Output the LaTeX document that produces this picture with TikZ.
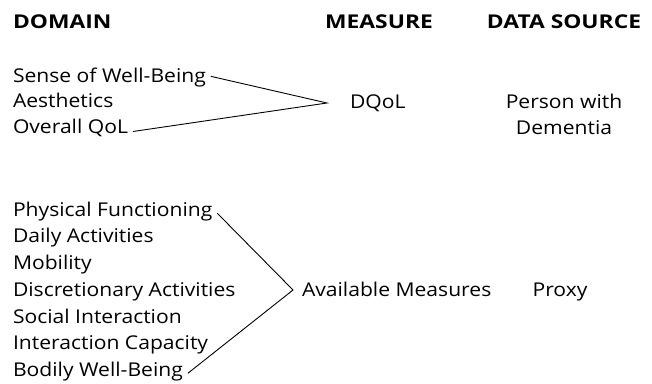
\documentclass[tikz,border=0pt]{standalone}
\usepackage{fontspec}
\setmainfont[FakeStretch=1.11]{Open Sans}
\newfontfamily\headfont[FakeStretch=1.2]{Open Sans}
\begin{document}
\begin{tikzpicture}[x=1pt,y=-1pt,
  every node/.style={inner sep=0pt,outer sep=0pt,font=\fontsize{19}{22}\selectfont},
  head/.style={font=\fontsize{19}{22}\selectfont\headfont\bfseries},
  item/.style={anchor=base west},
  link/.style={line width=0.9pt,black}]
\useasboundingbox (0,0) rectangle (652,383);

% column headings
\node[head,anchor=base west] (hdomain) at (13,28) {DOMAIN};
\node[head,anchor=base] (hmeasure) at (379,28) {MEASURE};
\node[head,anchor=base] (hsource) at (564,28) {DATA SOURCE};

% first group: domains assessed by the DQoL
\node[item] (sense) at (13,82) {Sense of Well-Being};
\node[item] (aesth) at (13,107.5) {Aesthetics};
\node[item] (overall) at (13,133) {Overall QoL};
\coordinate (apexA) at (327,103);
\node[item] (dqol) at (350,108) {DQoL};
\node[anchor=base] (pwdA) at (564,108) {Person with};
\node[anchor=base] (pwdB) at (564,134) {Dementia};

\draw[link] ([xshift=5pt,yshift=3pt]sense.mid east) -- (apexA)
  -- ([xshift=5pt,yshift=1.5pt]overall.base east);

% second group: domains covered by available proxy measures
\node[item] (phys) at (13,216) {Physical Functioning};
\node[item] (daily) at (13,242.5) {Daily Activities};
\node[item] (mobil) at (13,269.5) {Mobility};
\node[item] (discr) at (13,296.5) {Discretionary Activities};
\node[item] (social) at (13,323) {Social Interaction};
\node[item] (icap) at (13,349.5) {Interaction Capacity};
\node[item] (bodily) at (13,376) {Bodily Well-Being};
\coordinate (apexB) at (293,290);
\node[item] (avail) at (302,296.5) {Available Measures};
\node[anchor=base] (proxy) at (560,296.5) {Proxy};

\draw[link] ([xshift=5pt]phys.mid east) -- (apexB)
  -- ([xshift=5pt]bodily.mid east);
\end{tikzpicture}
\end{document}
